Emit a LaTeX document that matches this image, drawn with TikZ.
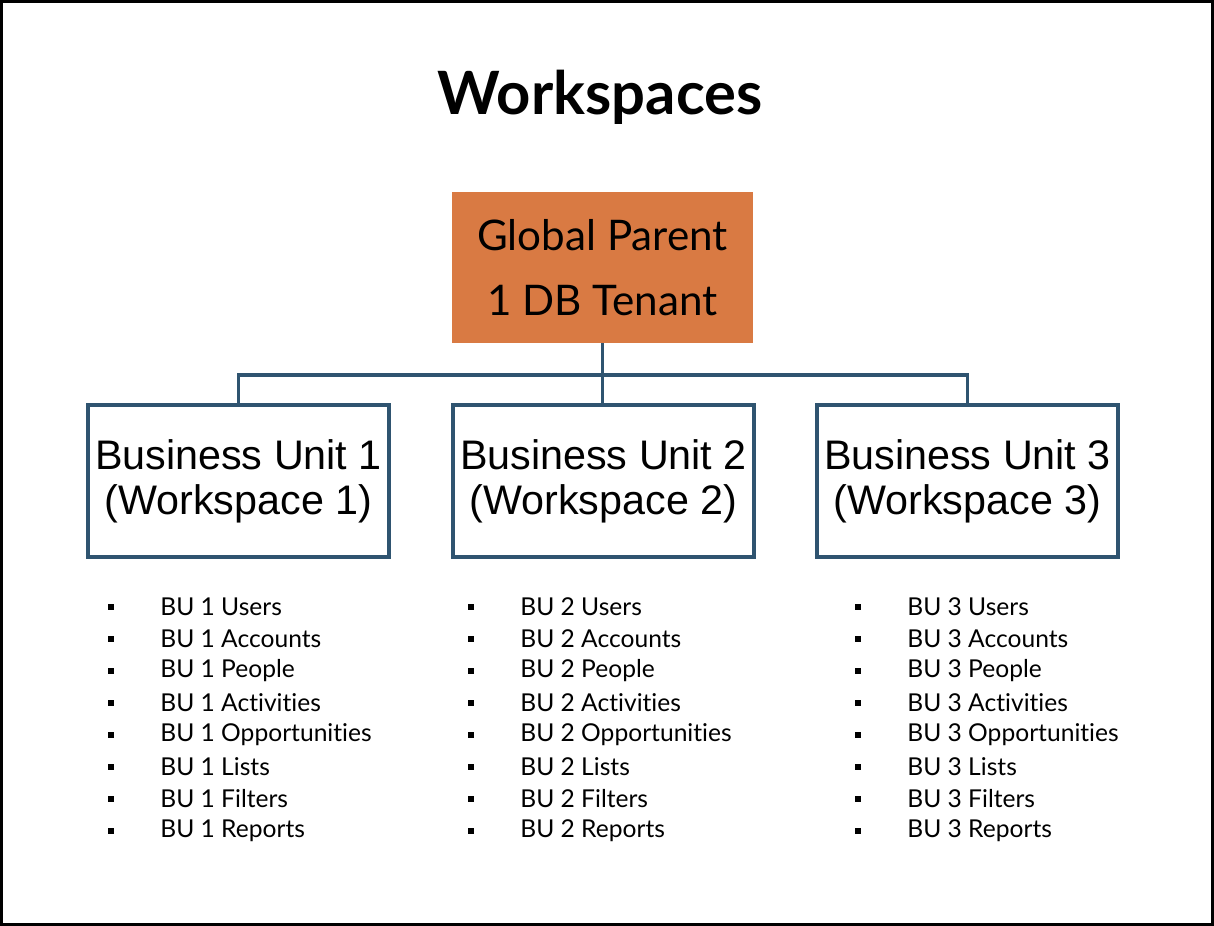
\documentclass[tikz,border=0pt]{standalone}
\usepackage{fontspec}
\setmainfont{Lato}[Ligatures=NoCommon]
\newfontfamily\unitfont{Liberation Sans}
\usetikzlibrary{positioning}
\definecolor{tenantorange}{HTML}{D97A43}
\definecolor{linkblue}{HTML}{2F5470}
\tikzstyle{tenant}=[fill=tenantorange, minimum width=6.02cm, minimum height=3.02cm, align=center, font=\fontsize{24}{37}\selectfont]
\tikzstyle{unit}=[draw=linkblue, line width=2.1pt, fill=white, minimum width=6.02cm, minimum height=3.04cm, align=center, font=\unitfont\fontsize{23.5}{25.5}\selectfont]
\tikzstyle{link}=[draw=linkblue, line width=2.1pt]
\tikzstyle{item}=[anchor=west, inner sep=0pt, font=\fontsize{14}{16}\selectfont]
\tikzstyle{dot}=[fill=black, minimum size=0.12cm, inner sep=0pt]
\begin{document}
\begin{tikzpicture}[x=0.02cm,y=-0.02cm]
\useasboundingbox (0,0) rectangle (1214,926);
\draw[line width=2.5pt] (1,1) rectangle (1213,925);
\node[font=\bfseries\fontsize{34}{40}\selectfont] (title) at (600,97) {Workspaces};
\node[tenant] (parent) at (602.5,267.5) {Global Parent\\1 DB Tenant};
\node[unit] (bu1) at (238.5,481) {Business Unit 1\\(Workspace 1)};
\node[unit] (bu2) at (603.5,481) {Business Unit 2\\(Workspace 2)};
\node[unit] (bu3) at (967.5,481) {Business Unit 3\\(Workspace 3)};
\coordinate (hub) at (602.5,375);
\draw[link] (parent.south) -- (hub);
\draw[link] (bu1.north) |- (hub) -| (bu3.north);
\draw[link] (hub) -- (hub |- bu2.north);

% lists under each unit
\foreach \i/\bx/\tx in {1/111/160, 2/471/520, 3/858/907} {
  \foreach \t [count=\k] in {Users,Accounts,People,Activities,Opportunities,Lists,Filters,Reports} {
    \pgfmathsetmacro{\yy}{\k<8 ? 607+32*(\k-1) : 831}
    \node[dot] (b\i\k) at (\bx,\yy) {};
    \node[item] (l\i\k) at (\tx,\yy) {BU \i{} \t};
  }
}
\end{tikzpicture}
\end{document}
